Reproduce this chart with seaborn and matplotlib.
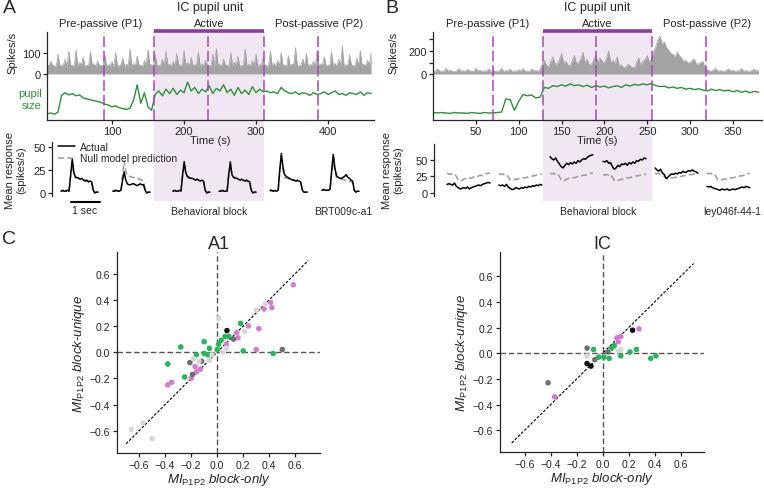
import numpy as np
import pandas as pd
import matplotlib
matplotlib.use("Agg")
import matplotlib.pyplot as plt
import seaborn as sns
from matplotlib.patches import Rectangle
from matplotlib.lines import Line2D

# ---------------- DATA ----------------
# Panel A: spike rate (2.5 s bins from t=10 s) and pupil (5 s bins, arbitrary units 0-1)
A_t0, A_dt_spk, A_dt_pup = 10, 2.5, 5
spikes_A = [45, 38, 60, 42, 38, 35, 95, 40, 42, 44, 70, 36, 110, 41, 40, 39, 115, 38, 55, 42,
            80, 35, 42, 40, 105, 44, 48, 36, 62, 41, 40, 39, 90, 38, 44, 42, 58, 35, 100, 40,
            38, 44, 75, 36, 46, 41, 120, 39, 50, 38, 85, 42, 42, 35, 65, 40, 118, 44, 44, 36,
            92, 41, 40, 39, 70, 38, 108, 42, 46, 35, 60, 40, 98, 44, 42, 36, 112, 41, 55, 39,
            80, 38, 44, 42, 105, 35, 48, 40, 66, 44, 40, 36, 95, 41, 122, 39, 45, 38, 70, 42,
            42, 35, 100, 40, 56, 44, 84, 36, 40, 41, 118, 39, 46, 38, 62, 42, 96, 35, 44, 40,
            78, 44, 40, 36, 110, 41, 50, 39, 64, 38, 102, 42, 42, 35, 88, 40, 46, 44, 125, 36,
            40, 41, 72, 39, 98, 38, 44, 42, 60, 35, 115, 40, 48, 44, 82, 36, 42, 41, 104, 39,
            50, 38, 70, 42, 135, 35, 44, 40, 92, 44, 40, 36, 76, 41, 110, 39, 46, 38, 65, 42,
            100]
pupil_A = [0.14, 0.16, 0.13, 0.18, 0.56, 0.62, 0.57, 0.60, 0.55, 0.57, 0.50, 0.48, 0.46, 0.44,
           0.42, 0.40, 0.36, 0.34, 0.30, 0.32, 0.28, 0.26, 0.24, 0.27, 0.45, 0.80, 0.38, 0.62,
           0.30, 0.22, 0.58, 0.66, 0.55, 0.70, 0.60, 0.72, 0.58, 0.68, 0.62, 0.86, 0.66, 0.74,
           0.60, 0.70, 0.64, 0.78, 0.60, 0.72, 0.66, 0.80, 0.62, 0.70, 0.56, 0.74, 0.60, 0.68,
           0.58, 0.76, 0.62, 0.70, 0.64, 0.66, 0.62, 0.64, 0.60, 0.74, 0.66, 0.62, 0.60, 0.64,
           0.58, 0.62, 0.60, 0.56, 0.62, 0.58, 0.60, 0.64, 0.58, 0.62, 0.66, 0.58, 0.60, 0.56,
           0.62, 0.60, 0.58, 0.64, 0.56, 0.62, 0.60]
A_block_lines = [89, 158, 233, 311, 386]
A_active = (158, 311)
A_time_ticks = [100, 200, 300, 400]

# Panel B: spike rate (2.5 s bins from t=0) and pupil (5 s bins)
B_t0, B_dt_spk, B_dt_pup = 0, 2.5, 5
spikes_B = [30, 24, 45, 28, 25, 22, 50, 26, 35, 23, 22, 27, 48, 25, 30, 22, 40, 28, 26, 24,
            52, 26, 33, 23, 28, 27, 45, 22, 36, 25, 24, 28, 50, 23, 30, 26, 42, 24, 27, 22,
            38, 27, 48, 25, 25, 23, 44, 28, 32, 24, 40, 90,
            120, 75, 60, 110, 150, 85, 90, 120, 180, 95, 110, 80, 70, 115, 160, 90, 100, 130,
            190, 100, 130, 75, 85, 120, 170, 95, 140, 110, 95, 140, 200, 100, 120, 90, 150, 70,
            80, 55, 60, 85, 70, 60, 50, 95, 140, 80, 110, 125, 160, 105, 130, 200,
            240, 300, 330, 260, 280, 230, 210, 180, 170, 150, 190, 160, 140, 110, 120, 95,
            100, 120, 130, 85, 90, 100, 110, 60,
            40, 28, 25, 35, 50, 24, 30, 27, 22, 33, 45, 25, 35, 22, 28, 30, 48, 26, 30, 23,
            24, 34, 42, 25, 36]
pupil_B = [0.17, 0.16, 0.17, 0.16, 0.15, 0.17, 0.16, 0.16, 0.15, 0.17, 0.16, 0.15, 0.17, 0.16,
           0.16, 0.17, 0.18, 0.48, 0.46, 0.22, 0.42, 0.58, 0.55, 0.57, 0.50, 0.52,
           0.74, 0.72, 0.78, 0.76, 0.80, 0.77, 0.82, 0.78, 0.80, 0.76, 0.79, 0.74, 0.78, 0.75,
           0.77, 0.73, 0.76, 0.78, 0.74, 0.80, 0.77, 0.81, 0.79, 0.82, 0.80, 0.83,
           0.78, 0.76, 0.77, 0.73, 0.75, 0.72, 0.74, 0.70, 0.72, 0.69, 0.71, 0.68, 0.66, 0.70,
           0.67, 0.69, 0.66, 0.68, 0.64, 0.67, 0.63, 0.66, 0.62, 0.65, 0.63]
B_block_lines = [70, 128.5, 190, 256, 319]
B_active = (128.5, 256)
B_time_ticks = [50, 100, 150, 200, 250, 300, 350]

# Mean responses (spikes/s)
A_actual = [
    [2, 3, 2, 2, 3, 2, 20, 37, 22, 17, 17, 16, 15, 16, 14, 13, 14, 12, 13, 12, 3, 0, 1, 1],
    [2, 2, 3, 2, 2, 3, 14, 23, 14, 10, 9, 9, 10, 10, 9, 8, 9, 10, 9, 9, 3, 0, 1, 1],
    [2, 3, 2, 2, 3, 2, 20, 34, 22, 18, 17, 16, 16, 15, 14, 15, 14, 13, 14, 13, 3, 0, 1, 1],
    [2, 2, 3, 2, 2, 2, 20, 34, 20, 17, 16, 16, 15, 14, 15, 14, 13, 14, 13, 12, 3, 0, 1, 1],
    [3, 3, 2, 3, 2, 3, 25, 43, 28, 20, 18, 17, 16, 15, 14, 14, 13, 14, 13, 12, 3, 1, 1, 1],
    [3, 4, 3, 3, 3, 4, 24, 42, 27, 19, 17, 16, 16, 17, 18, 20, 17, 16, 14, 13, 3, 1, 2, 2],
]
A_null = [
    [2, 2, 2, 2, 2, 2, 18, 30, 22, 17, 16, 16, 15, 15, 14, 14, 13, 13, 12, 12, 4, 1, 1, 1],
    [3, 3, 3, 2, 3, 3, 20, 35, 24, 19, 18, 18, 17, 17, 16, 16, 15, 15, 14, 13, 4, 1, 1, 1],
    [2, 2, 2, 2, 2, 2, 18, 31, 21, 17, 16, 16, 15, 15, 14, 14, 13, 13, 13, 12, 3, 1, 1, 1],
    [2, 2, 2, 2, 2, 2, 18, 30, 21, 18, 17, 16, 15, 15, 14, 14, 13, 13, 12, 12, 3, 1, 1, 1],
    [2, 2, 2, 2, 2, 2, 22, 40, 25, 17, 16, 16, 15, 15, 14, 14, 13, 13, 12, 12, 3, 1, 1, 1],
    [3, 3, 3, 3, 3, 3, 22, 38, 24, 17, 16, 15, 15, 15, 14, 14, 13, 13, 12, 12, 3, 1, 1, 1],
]
B_actual = [
    [13, 14, 13, 12, 15, 10, 8, 6, 7, 8, 7, 9, 6, 8, 9, 10, 11, 12, 11, 13, 14, 15, 16, 15],
    [12, 11, 12, 10, 13, 9, 7, 5, 6, 8, 7, 6, 8, 7, 9, 8, 10, 9, 11, 10, 12, 11, 13, 12],
    [55, 52, 50, 53, 48, 44, 40, 38, 42, 45, 43, 46, 44, 47, 45, 49, 47, 50, 52, 51, 54, 56, 57, 58],
    [48, 47, 49, 45, 46, 40, 36, 38, 42, 40, 44, 43, 45, 42, 46, 44, 47, 45, 49, 48, 51, 50, 53, 52],
    [38, 35, 33, 36, 30, 28, 22, 24, 27, 29, 28, 30, 29, 31, 30, 33, 31, 32, 34, 33, 35, 33, 32, 30],
    [10, 9, 10, 8, 7, 6, 5, 4, 6, 5, 5, 6, 4, 5, 6, 5, 6, 7, 8, 9, 8, 10, 9, 8],
]
B_null = [
    [30, 29, 28, 30, 29, 25, 20, 18, 19, 21, 22, 21, 23, 22, 24, 25, 24, 26, 27, 26, 28, 29, 30, 30],
    [29, 28, 29, 27, 28, 24, 20, 19, 20, 21, 21, 22, 22, 23, 23, 24, 24, 25, 26, 26, 27, 28, 28, 29],
    [30, 29, 30, 28, 29, 25, 20, 18, 19, 21, 22, 22, 23, 23, 24, 25, 25, 26, 27, 27, 28, 29, 30, 30],
    [28, 27, 28, 27, 28, 24, 19, 18, 19, 20, 21, 21, 22, 23, 23, 24, 24, 25, 26, 26, 27, 28, 28, 29],
    [30, 29, 30, 28, 27, 25, 22, 21, 22, 23, 23, 24, 24, 25, 25, 26, 26, 27, 27, 28, 28, 29, 29, 30],
    [30, 29, 30, 28, 29, 24, 20, 19, 20, 21, 21, 22, 22, 23, 23, 24, 25, 25, 26, 26, 27, 28, 29, 30],
]

# Panel C scatter (MI block-only, MI block-unique, group)
A1_x = [0.585, 0.41, 0.42, 0.36, 0.32, 0.24, 0.16, 0.15, 0.07, 0.30, -0.17, -0.13, -0.16, -0.20, -0.35, -0.38,
        0.18, 0.09, 0.06, 0.03, 0.01, 0.00, -0.10, -0.28, -0.06, -0.10, -0.07, -0.16, -0.38, -0.25, 0.20, 0.43,
        0.50, 0.125, -0.21, -0.12, -0.19,
        0.075,
        0.37, 0.30, 0.01, 0.21, -0.18, -0.14, -0.06, -0.04, 0.04, -0.66, -0.57, -0.50, 0.07]
A1_y = [0.515, 0.38, 0.34, 0.33, 0.18, 0.20, 0.11, 0.15, 0.06, 0.02, -0.11, -0.13, -0.15, -0.20, -0.23, -0.25,
        0.22, 0.12, 0.12, 0.09, 0.06, 0.02, 0.08, 0.04, 0.03, -0.01, -0.02, -0.02, -0.09, -0.19, 0.01, -0.01,
        0.02, 0.10, -0.08, -0.07, -0.17,
        0.165,
        0.37, 0.32, 0.26, 0.16, -0.05, -0.07, -0.06, -0.02, 0.00, -0.59, -0.54, -0.66, 0.03]
A1_g = ["pink"] * 16 + ["green"] * 16 + ["dark"] * 5 + ["black"] * 1 + ["light"] * 13

IC_x = [0.28, 0.14, 0.11, 0.12, -0.37,
        0.23, -0.12, -0.09,
        -0.12, -0.42, -0.06, 0.04,
        0.14, -0.12, -0.02, 0.12,
        -0.07, -0.03, 0.01, 0.05, 0.09, 0.07, 0.14, 0.21, 0.26, 0.37, 0.41]
IC_y = [0.19, 0.13, 0.12, 0.09, -0.34,
        0.18, -0.08, -0.10,
        0.04, -0.23, -0.05, 0.01,
        0.03, -0.02, -0.02, 0.02,
        0.03, -0.03, -0.03, -0.04, 0.06, 0.04, -0.02, 0.01, 0.03, -0.04, -0.02]
IC_g = ["pink"] * 5 + ["black"] * 3 + ["dark"] * 4 + ["light"] * 4 + ["green"] * 11

# ---------------- STYLE ----------------
sns.set_style("ticks")
plt.rcParams["font.family"] = ["Liberation Sans", "DejaVu Sans"]
plt.rcParams["mathtext.fontset"] = "custom"
plt.rcParams["mathtext.rm"] = "Liberation Sans"
plt.rcParams["mathtext.it"] = "Liberation Sans:italic"
plt.rcParams["axes.linewidth"] = 0.9
plt.rcParams["xtick.major.size"] = 3
plt.rcParams["ytick.major.size"] = 3
plt.rcParams["xtick.major.width"] = 0.9
plt.rcParams["ytick.major.width"] = 0.9

W, H = 764, 489
fig = plt.figure(figsize=(W / 100, H / 100), dpi=100)
fig.patch.set_facecolor("white")

SPK = "#a3a3a3"
PUP = "#2f8f3c"
PURPLE = "#8c3d9e"
DASH = "#a548b5"
SHADE = "#f1e7f2"
pal = {"pink": "#d27ed0", "green": "#27b45a", "dark": "#6f6f6f", "light": "#d6d6d6", "black": "#111111"}


def px_axes(l, t, r, b):
    ax = fig.add_axes([l / W, 1 - b / H, (r - l) / W, (b - t) / H])
    ax.set_facecolor("none")
    return ax


def top_panel(ax_s, ax_p, t0, dt_s, dt_p, spikes, pupil, xlim, ylim_s, yticks, ylabels, lines,
              active, tticks, ylab_x):
    ts = t0 + dt_s * np.arange(len(spikes))
    tp = t0 + dt_p * np.arange(len(pupil))
    ax_s.fill_between(ts, 0, spikes, color=SPK, lw=0)
    sns.lineplot(x=ts, y=spikes, color=SPK, lw=0.5, ax=ax_s, estimator=None, sort=False)
    sns.lineplot(x=tp, y=pupil, color=PUP, lw=1.0, ax=ax_p, estimator=None, sort=False)
    for ax in (ax_s, ax_p):
        ax.set_xlim(*xlim)
        for v in lines:
            ax.axvline(v, color=DASH, lw=1.1, ls=(0, (7, 2.5)))
        ax.spines["top"].set_visible(False)
        ax.spines["right"].set_visible(False)
    ax_s.set_ylim(*ylim_s)
    ax_s.set_yticks(yticks)
    ax_s.set_yticklabels(ylabels, fontsize=8)
    ax_s.tick_params(axis="y", pad=1.5)
    ax_s.spines["bottom"].set_visible(False)
    ax_s.tick_params(axis="x", bottom=False, labelbottom=False)
    ax_s.set_ylabel("Spikes/s", fontsize=8)
    ax_s.yaxis.set_label_coords(ylab_x, 0.55)
    ax_s.plot(active, [1.02, 1.02], transform=ax_s.get_xaxis_transform(), color=PURPLE,
              lw=2.6, clip_on=False, solid_capstyle="butt")
    ax_p.set_ylim(0, 1)
    ax_p.set_yticks([])
    ax_p.set_xticks(tticks)
    ax_p.tick_params(axis="x", labelsize=8, pad=1.5)
    ax_p.set_xlabel("Time (s)", fontsize=8, labelpad=-1)


def shade(ax_ref, active, top_px, bot_px):
    inv = fig.transFigure.inverted()
    x0 = inv.transform(ax_ref.transData.transform((active[0], 0)))[0]
    x1 = inv.transform(ax_ref.transData.transform((active[1], 0)))[0]
    r = Rectangle((x0, 1 - bot_px / H), x1 - x0, (bot_px - top_px) / H, transform=fig.transFigure,
                  facecolor=SHADE, edgecolor="none", zorder=-5)
    fig.patches.append(r)
    return (x0 + x1) / 2


def resp_panel(ax, actual, null, starts, dt, ylim, ylab_x, xmax):
    for s, a, n in zip(starts, actual, null):
        x = s + dt * np.arange(len(a))
        sns.lineplot(x=x, y=n, color="#9a9a9a", lw=1.1, ls=(0, (4, 2)), ax=ax, estimator=None)
        sns.lineplot(x=x, y=a, color="black", lw=1.1, ax=ax, estimator=None)
    ax.set_xlim(0, xmax)
    ax.set_ylim(*ylim)
    ax.set_yticks([0, 25, 50])
    ax.tick_params(axis="y", labelsize=8, pad=1.5)
    ax.tick_params(axis="x", bottom=False, labelbottom=False)
    for sp in ("top", "right", "bottom"):
        ax.spines[sp].set_visible(False)
    ax.set_ylabel("Mean response\n(spikes/s)", fontsize=8, linespacing=1.1)
    ax.yaxis.set_label_coords(ylab_x, 0.5)


# ---------------- PANEL A ----------------
ax_sA = px_axes(47, 33, 374, 77)
ax_pA = px_axes(47, 77, 374, 121)
top_panel(ax_sA, ax_pA, A_t0, A_dt_spk, A_dt_pup, spikes_A, pupil_A, (9.7, 464), (-10, 200),
          [0, 100], ["0", "100"], A_block_lines, A_active, A_time_ticks, -0.09)
cA = shade(ax_sA, A_active, 33, 202)
ax_rA = px_axes(52, 143.4, 374, 196.8)
resp_panel(ax_rA, A_actual, A_null, [0.31, 2.10, 4.17, 5.76, 7.52, 9.31], 0.0556, (-3, 55),
           -0.08, 322 / 29)
ax_rA.legend(handles=[Line2D([], [], color="black", lw=1.1),
                      Line2D([], [], color="#9a9a9a", lw=1.1, ls=(0, (4, 2)))],
             labels=["Actual", "Null model prediction"], loc="upper left",
             bbox_to_anchor=(0.0, 1.13), frameon=False, fontsize=7.5, handlelength=1.6,
             handletextpad=0.5, labelspacing=0.15, borderaxespad=0.2)
ax_rA.plot([0.64, 1.64], [-9.5, -9.5], color="black", lw=1.5, clip_on=False)
ax_rA.text(1.14, -13, "1 sec", ha="center", va="top", fontsize=7.5)
fig.text(cA, 1 - 212 / H, "Behavioral block", ha="center", va="center", fontsize=7.5)
fig.text(343 / W, 1 - 212 / H, "BRT009c-a1", ha="center", va="center", fontsize=7.5)
fig.text(42 / W, 1 - 100 / H, "pupil\nsize", ha="right", va="center", color=PUP, fontsize=8,
         linespacing=1.25)

# ---------------- PANEL B ----------------
ax_sB = px_axes(433, 33, 762, 77)
ax_pB = px_axes(433, 77, 762, 121)
top_panel(ax_sB, ax_pB, B_t0, B_dt_spk, B_dt_pup, spikes_B, pupil_B, (0, 384), (-17, 365),
          [0, 100, 200, 300], ["0", "", "200", ""], B_block_lines, B_active, B_time_ticks, -0.105)
cB = shade(ax_sB, B_active, 33, 202)
ax_rB = px_axes(434, 144.5, 762, 196.6)
resp_panel(ax_rB, B_actual, B_null, [0.45, 2.24, 4.0, 5.83, 7.62, 9.41], 0.0643, (-4, 75),
           -0.095, 328 / 29)
fig.text(cB, 1 - 212 / H, "Behavioral block", ha="center", va="center", fontsize=7.5)
fig.text(761 / W, 1 - 212 / H, "ley046f-44-1", ha="right", va="center", fontsize=7.5)

# headers
for ax_s, ax_p, lines, xl in ((ax_sA, ax_pA, A_block_lines, (9.7, 464)),
                              (ax_sB, ax_pB, B_block_lines, (0, 384))):
    trans = ax_s.get_xaxis_transform()
    ax_s.text((xl[0] + xl[1]) / 2, 1 + 25 / 44, "IC pupil unit", transform=trans, ha="center",
              va="center", fontsize=9)
    centers = [(xl[0] + lines[1]) / 2, (lines[1] + lines[3]) / 2, (lines[3] + xl[1]) / 2]
    for c, lab in zip(centers, ["Pre-passive (P1)", "Active", "Post-passive (P2)"]):
        ax_s.text(c, 1 + 9 / 44, lab, transform=trans, ha="center", va="center", fontsize=8)

# ---------------- PANEL C ----------------
def scatter_panel(ax, xs, ys, gs, title, xlim, ylim):
    df = pd.DataFrame({"x": xs, "y": ys, "g": gs})
    ax.axhline(0, color="#555555", lw=1.0, ls=(0, (4, 2)), zorder=1)
    ax.axvline(0, color="#555555", lw=1.0, ls=(0, (4, 2)), zorder=1)
    ax.plot([-0.7, 0.7], [-0.7, 0.7], color="black", lw=0.8, ls=(0, (2.5, 1.5)), zorder=1)
    sns.scatterplot(data=df, x="x", y="y", hue="g", palette=pal,
                    hue_order=["light", "dark", "green", "pink", "black"], s=16, linewidth=0,
                    legend=False, ax=ax, zorder=3)
    ax.set_xlim(*xlim)
    ax.set_ylim(*ylim)
    ticks = [-0.6, -0.4, -0.2, 0.0, 0.2, 0.4, 0.6]
    ax.set_xticks(ticks)
    ax.set_yticks(ticks)
    ax.tick_params(labelsize=7.5, pad=2)
    ax.spines["top"].set_visible(False)
    ax.spines["right"].set_visible(False)
    ax.set_title(title, fontsize=13, pad=3)
    ax.set_xlabel(r"$MI_{\mathrm{P1P2}}$ block-only", fontstyle="italic", fontsize=9.5, labelpad=1)
    ax.set_ylabel(r"$MI_{\mathrm{P1P2}}$ block-unique", fontstyle="italic", fontsize=9.5,
                  labelpad=2)


ax_c1 = px_axes(117, 253, 320, 454)
scatter_panel(ax_c1, A1_x, A1_y, A1_g, "A1", (-0.77, 0.79), (-0.77, 0.765))
ax_c2 = px_axes(500, 253, 704, 453)
scatter_panel(ax_c2, IC_x, IC_y, IC_g, "IC", (-0.79, 0.78), (-0.77, 0.79))

# panel letters
fig.text(3 / W, 1 - 0 / H, "A", ha="left", va="top", fontsize=14)
fig.text(385 / W, 1 - 0 / H, "B", ha="left", va="top", fontsize=14)
fig.text(2 / W, 1 - 231 / H, "C", ha="left", va="top", fontsize=14)

fig.savefig("out.png", dpi=100)
